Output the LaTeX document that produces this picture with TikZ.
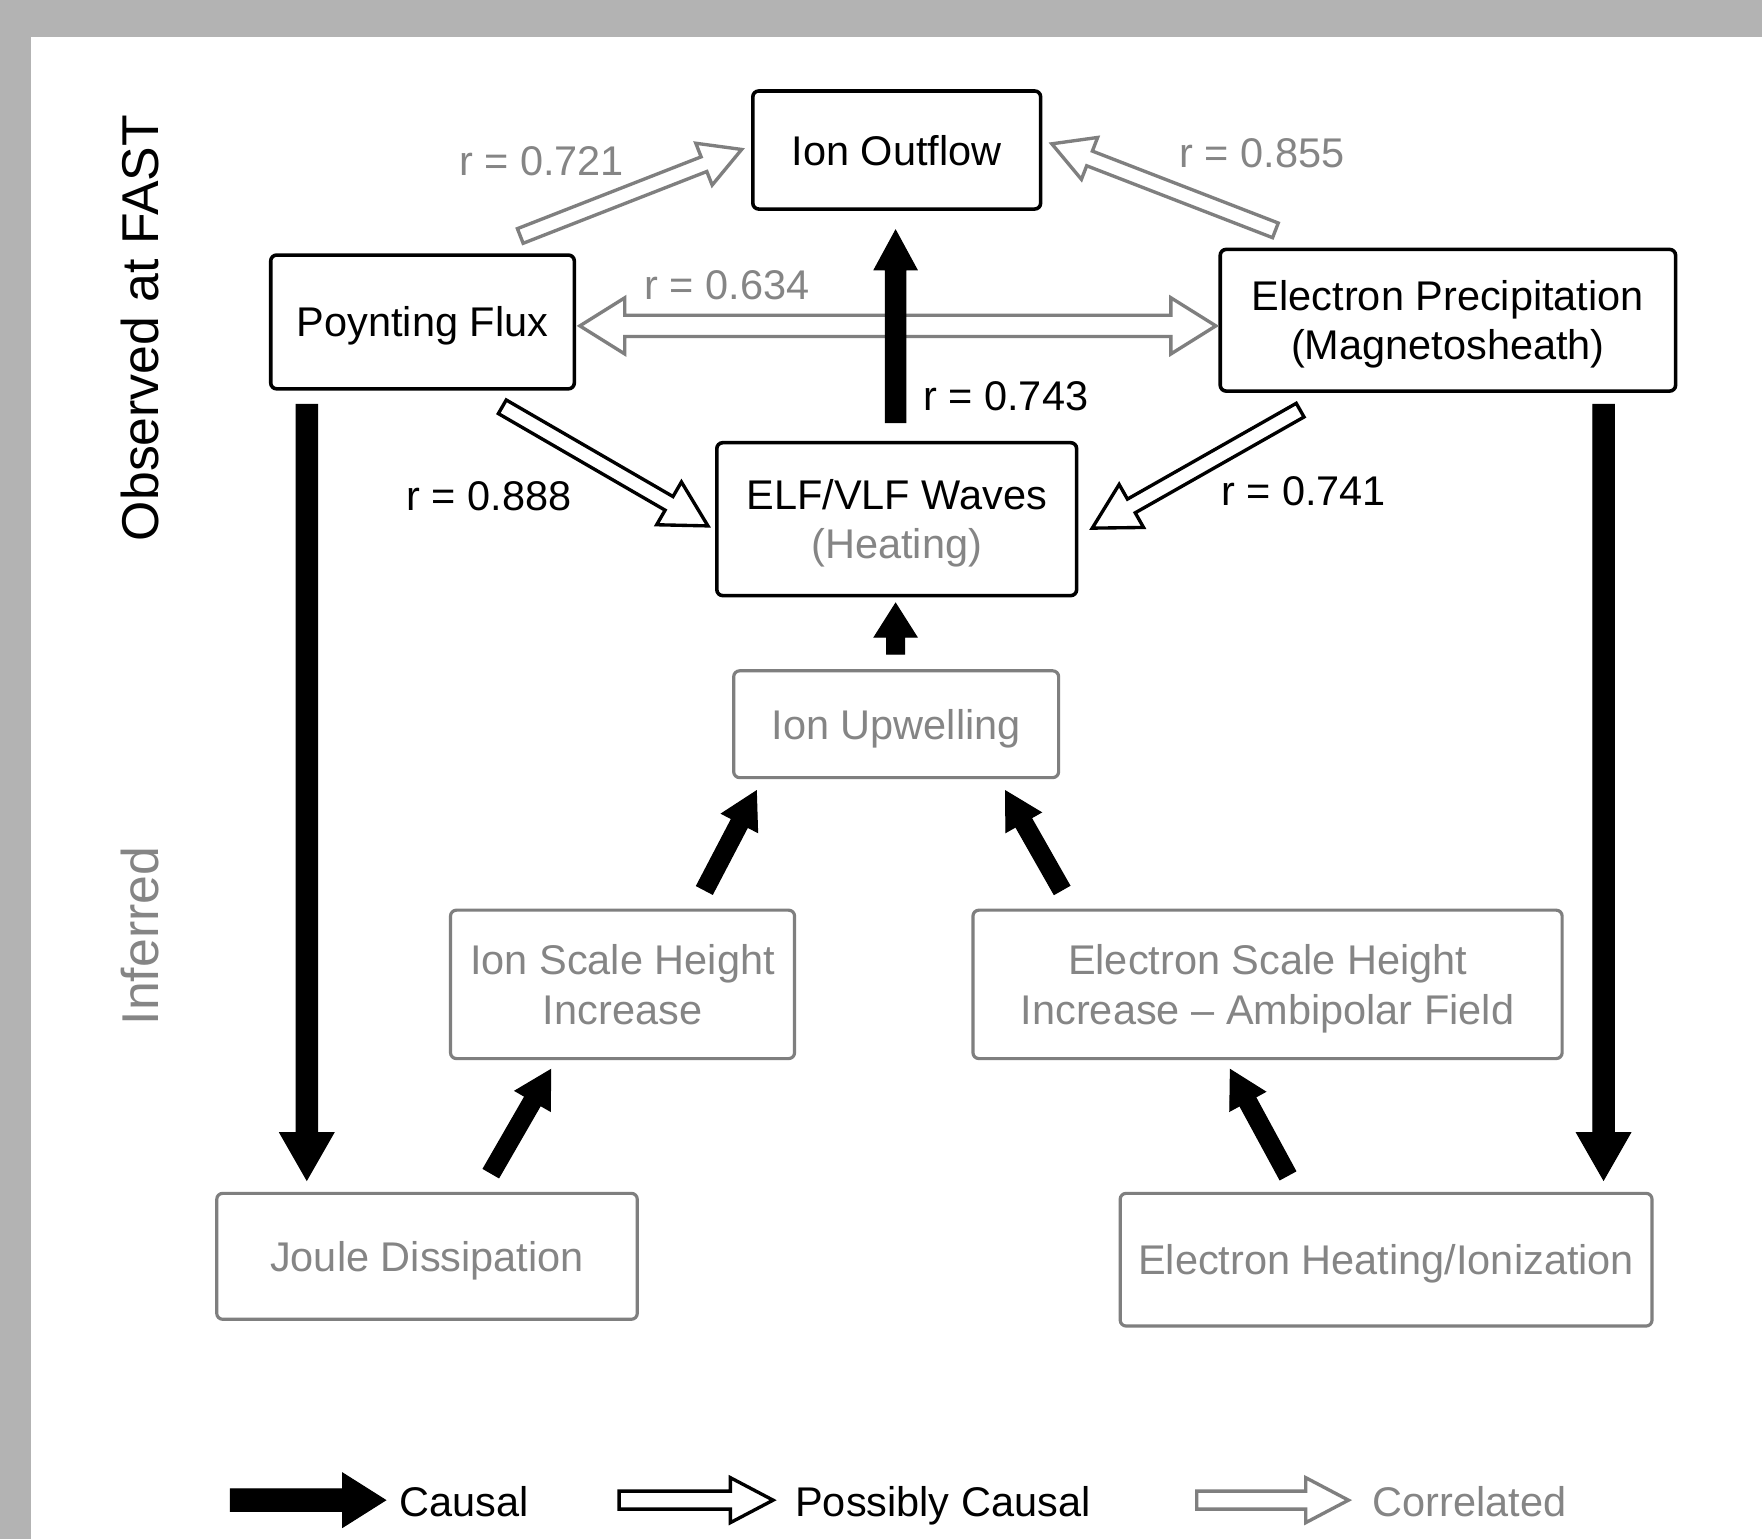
\documentclass[tikz,border=0pt]{standalone}
\usepackage{fontspec}
\setmainfont{Liberation Sans}
\usetikzlibrary{calc}
\definecolor{bggray}{HTML}{B3B3B3}
\definecolor{mgray}{HTML}{7F7F7F}
\definecolor{tgray}{HTML}{858585}
% block arrow: style, from, to, shaft half width, head half width, head length (px)
\newcommand{\blockarrow}[6]{%
  \coordinate (tmpH) at ($(#3)!#6*0.01cm!(#2)$);
  \draw[#1] ($(#2)!#4*0.01cm!90:(#3)$) -- ($(tmpH)!#4*0.01cm!90:(#3)$)
    -- ($(tmpH)!#5*0.01cm!90:(#3)$) -- (#3) -- ($(tmpH)!#5*0.01cm!-90:(#3)$)
    -- ($(tmpH)!#4*0.01cm!-90:(#3)$) -- ($(#2)!#4*0.01cm!-90:(#3)$) -- cycle;}
\newcommand{\dblockarrow}[6]{%
  \coordinate (tmpA) at ($(#2)!#6*0.01cm!(#3)$);
  \coordinate (tmpB) at ($(#3)!#6*0.01cm!(#2)$);
  \draw[#1] (#2) -- ($(tmpA)!#5*0.01cm!90:(#3)$) -- ($(tmpA)!#4*0.01cm!90:(#3)$)
    -- ($(tmpB)!#4*0.01cm!90:(#3)$) -- ($(tmpB)!#5*0.01cm!90:(#3)$) -- (#3)
    -- ($(tmpB)!#5*0.01cm!-90:(#3)$) -- ($(tmpB)!#4*0.01cm!-90:(#3)$)
    -- ($(tmpA)!#4*0.01cm!-90:(#3)$) -- ($(tmpA)!#5*0.01cm!-90:(#3)$) -- cycle;}
\tikzset{
  mainfont/.style={font=\fontsize{10.5pt}{12.5pt}\selectfont},
  obsbox/.style={draw=black, line width=0.9pt, rounded corners=1.5pt, fill=white,
    inner sep=0pt, align=center, mainfont, text=black, text depth=0pt},
  infbox/.style={draw=mgray, line width=0.8pt, rounded corners=1.5pt, fill=white,
    inner sep=0pt, align=center, mainfont, text=tgray, text depth=0pt},
  causal/.style={fill=black, draw=black, line width=0.3pt, line join=miter},
  possible/.style={fill=white, draw=black, line width=0.85pt, line join=miter},
  correl/.style={fill=white, draw=mgray, line width=0.85pt, line join=miter},
  rlab/.style={mainfont, inner sep=0pt, text depth=0pt},
  sidelab/.style={font=\fontsize{13.1pt}{15pt}\selectfont, rotate=90, inner sep=0pt},
}
\begin{document}
\begin{tikzpicture}[x=0.01cm, y=-0.01cm]
\useasboundingbox (0,0) rectangle (1568,1370);
\fill[bggray] (0,0) rectangle (1568,1370);
\fill[white] (28,33) rectangle (1568,1370);

% side labels
\node[sidelab, text=black] (obs) at (125,292) {Observed at FAST};
\node[sidelab, text=tgray] (inf) at (125,833) {Inferred};

% nodes
\node[obsbox, minimum width=2.56cm, minimum height=1.05cm] (out) at (798,133.5) {Ion Outflow};
\node[obsbox, minimum width=2.70cm, minimum height=1.19cm] (pf) at (376,286.5) {Poynting Flux};
\node[obsbox, minimum width=4.05cm, minimum height=1.26cm] (ep) at (1288.5,285) {Electron Precipitation\\(Magnetosheath)};
\node[obsbox, minimum width=3.20cm, minimum height=1.36cm] (elf) at (798,462) {ELF/VLF Waves\\\textcolor{tgray}{(Heating)}};
\node[infbox, minimum width=2.89cm, minimum height=0.95cm] (up) at (797.5,644.5) {Ion Upwelling};
\node[infbox, minimum width=3.06cm, minimum height=1.32cm] (ish) at (554,876) {Ion Scale Height\\Increase};
\node[infbox, minimum width=5.24cm, minimum height=1.32cm] (esh) at (1128,876) {Electron Scale Height\\Increase -- Ambipolar Field};
\node[infbox, minimum width=3.74cm, minimum height=1.12cm] (joule) at (380,1118) {Joule Dissipation};
\node[infbox, minimum width=4.73cm, minimum height=1.18cm] (ehi) at (1233.5,1121) {Electron Heating/Ionization};

% connector end points
\coordinate (elfTop) at (797,376);   \coordinate (outBot) at (797,205);
\coordinate (pfBot) at (273,360);    \coordinate (jouleTop) at (273,1050);
\coordinate (epBot) at (1427,360);   \coordinate (ehiTop) at (1427,1050);
\coordinate (upTop) at (797,582);    \coordinate (elfBot) at (797,537);
\coordinate (ishTop) at (627,792);   \coordinate (upBotL) at (673,704);
\coordinate (eshTop) at (945,792);   \coordinate (upBotR) at (895,704);
\coordinate (jouleUp) at (437,1044); \coordinate (ishBot) at (490,952);
\coordinate (ehiUp) at (1146,1046);  \coordinate (eshBot) at (1095,952);
\coordinate (pfLow) at (447,362);    \coordinate (elfL) at (630,468);
\coordinate (epLow) at (1157,365);   \coordinate (elfR) at (972,470);
\coordinate (pfUp) at (463,210);     \coordinate (outL) at (660,133);
\coordinate (epUp) at (1135,205);    \coordinate (outR) at (936,128);
\coordinate (pfR) at (516,290);      \coordinate (epL) at (1082,290);

% correlated (gray hollow)
\dblockarrow{correl}{pfR}{epL}{9.5}{25}{40}
\blockarrow{correl}{pfUp}{outL}{7}{20}{36}
\blockarrow{correl}{epUp}{outR}{7}{20}{36}

% causal (black)
\blockarrow{causal}{elfTop}{outBot}{9}{19}{35}
\blockarrow{causal}{pfBot}{jouleTop}{9.5}{24}{42}
\blockarrow{causal}{epBot}{ehiTop}{9.5}{24}{42}
\blockarrow{causal}{upTop}{elfBot}{8}{19}{30}
\blockarrow{causal}{ishTop}{upBotL}{8}{18}{32}
\blockarrow{causal}{eshTop}{upBotR}{8}{18}{32}
\blockarrow{causal}{jouleUp}{ishBot}{8}{18}{32}
\blockarrow{causal}{ehiUp}{eshBot}{8}{18}{32}

% possibly causal (black hollow)
\blockarrow{possible}{pfLow}{elfL}{7}{22}{40}
\blockarrow{possible}{epLow}{elfR}{7}{22}{40}

% labels
\node[rlab, text=tgray] (l721) at (482,143) {r = 0.721};
\node[rlab, text=tgray] (l855) at (1123,136) {r = 0.855};
\node[rlab, text=tgray] (l634) at (647,254) {r = 0.634};
\node[rlab] (l743) at (895,352) {r = 0.743};
\node[rlab] (l888) at (435,441) {r = 0.888};
\node[rlab] (l741) at (1160,437) {r = 0.741};

% legend
\coordinate (lgA1) at (205,1335); \coordinate (lgA2) at (343,1335);
\coordinate (lgB1) at (551,1335); \coordinate (lgB2) at (688,1335);
\coordinate (lgC1) at (1065,1335); \coordinate (lgC2) at (1200,1335);
\blockarrow{causal}{lgA1}{lgA2}{10}{24}{38}
\blockarrow{possible}{lgB1}{lgB2}{8}{20}{38}
\blockarrow{correl}{lgC1}{lgC2}{8}{20}{38}
\node[rlab, anchor=west] (lgAt) at (355,1336) {Causal};
\node[rlab, anchor=west] (lgBt) at (707,1336) {Possibly Causal};
\node[rlab, anchor=west, text=tgray] (lgCt) at (1221,1336) {Correlated};
\end{tikzpicture}
\end{document}
